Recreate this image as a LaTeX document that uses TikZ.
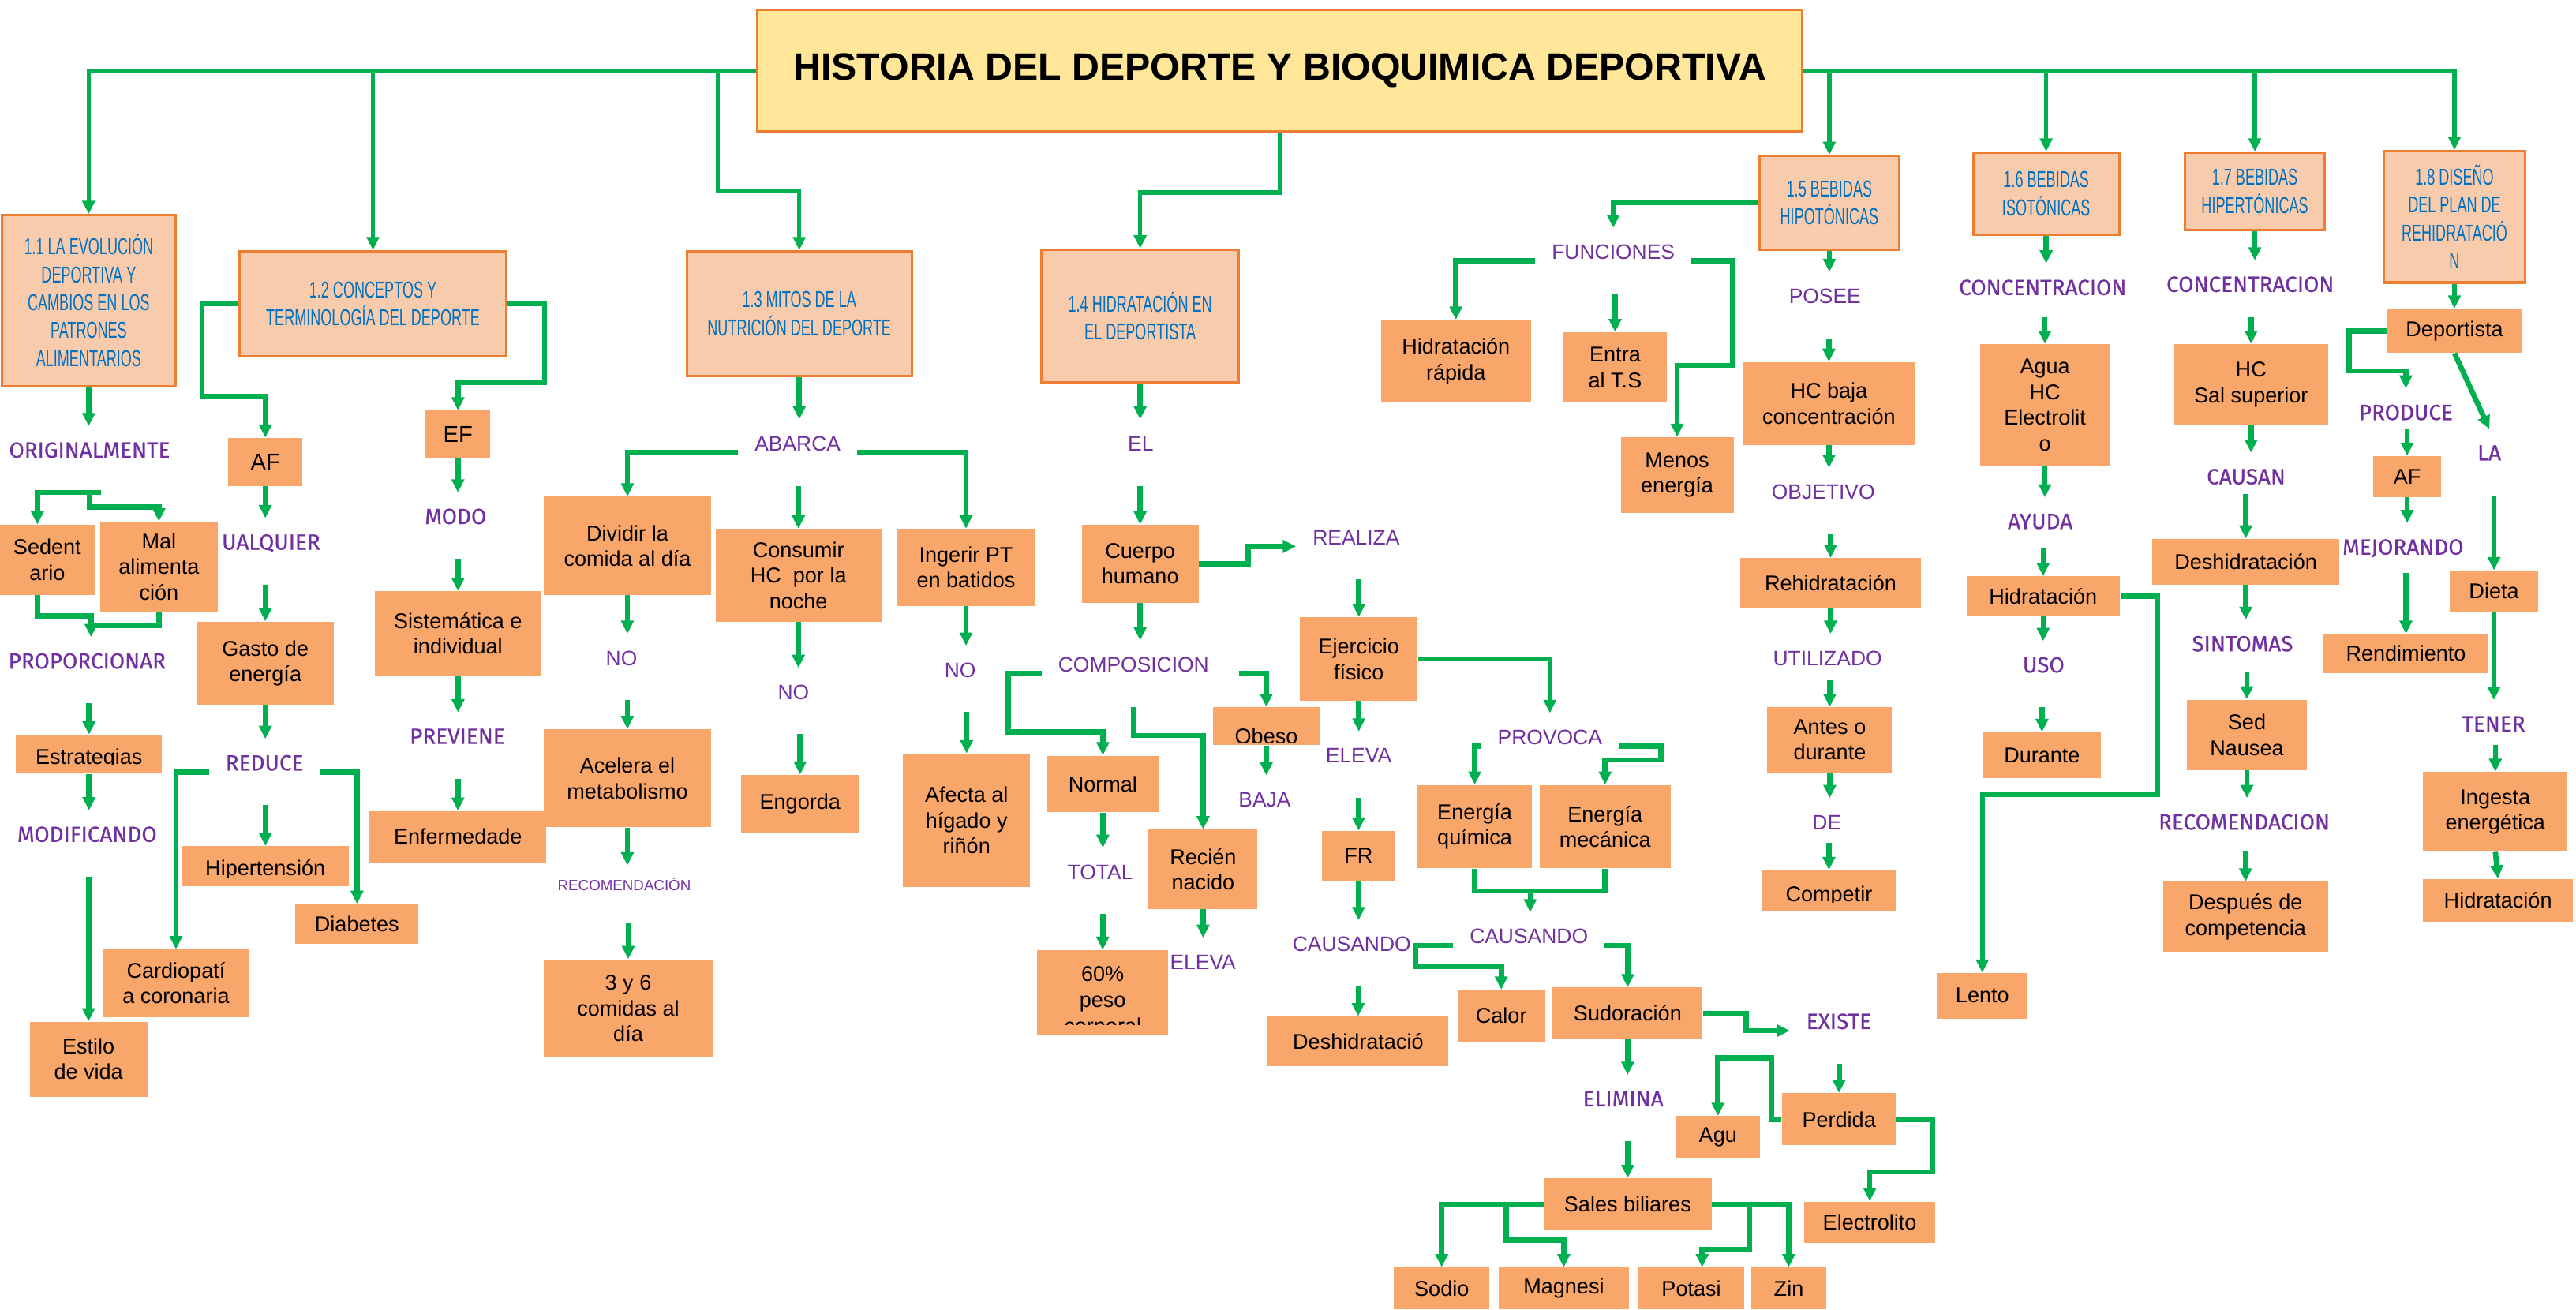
\documentclass[tikz,border=0pt]{standalone}
\usepackage{fontspec}
\setmainfont{Liberation Sans}
\newfontfamily\fA{Liberation Sans}
\newfontfamily\fH[FakeStretch=0.62]{Liberation Sans}
\newfontfamily\fD[FakeBold=0.5]{Fira Sans}
\usetikzlibrary{arrows.meta}
\definecolor{grn}{HTML}{00B050}
\definecolor{boxo}{HTML}{F9A66A}
\definecolor{hdrf}{HTML}{F8CBAD}
\definecolor{hdrd}{HTML}{ED7D31}
\definecolor{ttl}{HTML}{FFE699}
\definecolor{purp}{HTML}{7030A0}
\definecolor{blu}{HTML}{0070C0}
\tikzset{
 ob/.style={fill=boxo, inner sep=0pt, align=center, font=\fA\fontsize{13}{15.6}\selectfont},
 hdr/.style={fill=hdrf, draw=hdrd, line width=1.5pt, inner sep=0pt, align=center, text=blu, font=\fH\fontsize{14}{17}\selectfont},
 lab/.style={anchor=base, text height=19pt, text depth=21pt, inner xsep=10pt, inner ysep=0pt, text=purp},
 dl/.style={font=\fD\fontsize{13.4}{15}\selectfont},
 gl/.style={font=\fA\fontsize{12.7}{15}\selectfont},
 ar/.style={draw=grn, line width=3.2pt, -{Triangle[width=7.5pt,length=8pt]}},
 ln/.style={draw=grn, line width=3.2pt},
 tar/.style={ar, line width=2.6pt},
 ctext/.style={fill=none, inner sep=0pt, align=center, font=\fA\fontsize{13}{15.6}\selectfont},
}
\newcommand\OB[7][]{\node[ob,#1,minimum width={(#4)-(#2)},minimum height={(#5)-(#3)}] (#6) at ({((#2)+(#4))/2},{((#3)+(#5))/2}) {#7};}
\newcommand\HB[6]{\node[hdr,minimum width={(#3)-(#1)},minimum height={(#4)-(#2)}] (#5) at ({((#1)+(#3))/2},{((#2)+(#4))/2}) {#6};}
\newcommand\LB[5][]{\node[lab,#1] (#2) at (#3,{#4+5}) {#5};}
\begin{document}
\begin{tikzpicture}[x=1pt,y=-1pt]
\useasboundingbox (0,0) rectangle (1568,797);
% title
\node[fill=ttl, draw=hdrd, line width=1.2pt, minimum width=636pt, minimum height=74pt, inner sep=0pt, font=\fA\bfseries\fontsize{23.2}{27}\selectfont] (t) at (779,43) {HISTORIA DEL DEPORTE Y BIOQUIMICA DEPORTIVA};
% headers
\HB{1}{131}{107}{235}{h1}{1.1 LA EVOLUCIÓN\\DEPORTIVA Y\\CAMBIOS EN LOS\\PATRONES\\ALIMENTARIOS}
\HB{146}{153}{308}{217}{h2}{1.2 CONCEPTOS Y\\TERMINOLOGÍA DEL DEPORTE}
\HB{418}{153}{555}{229}{h3}{1.3 MITOS DE LA\\NUTRICIÓN DEL DEPORTE}
\HB{634}{152}{754}{233}{h4}{1.4 HIDRATACIÓN EN\\EL DEPORTISTA}
\HB{1071}{95}{1156}{152}{h5}{1.5 BEBIDAS\\HIPOTÓNICAS}
\HB{1201}{93}{1290}{143}{h6}{1.6 BEBIDAS\\ISOTÓNICAS}
\HB{1330}{93}{1415}{140}{h7}{1.7 BEBIDAS\\HIPERTÓNICAS}
\HB{1451}{92}{1537}{172}{h8}{1.8 DISEÑO\\DEL PLAN DE\\REHIDRATACIÓ\\N}
% left region boxes
\OB[font=\fA\fontsize{14}{16}\selectfont]{139}{266.6}{184}{295.7}{AF1}{AF}
\OB[font=\fA\fontsize{14}{16}\selectfont]{259}{250}{298.5}{279}{EF}{EF}
\OB{0}{319.5}{57.5}{362}{SedA}{Sedent\\ario}
\OB{61}{317.6}{132.5}{372.5}{Mal}{Mal\\alimenta\\ción}
\OB{120}{378.4}{203}{429}{Gasto}{Gasto de\\energía}
\OB{228}{360}{329.6}{411}{Sist}{Sistemática e\\individual}
\OB{225}{493.7}{332.5}{525}{Enf}{Enfermedade}
\OB{9.7}{447.3}{98.7}{471}{Est}{}
\begin{scope}\clip (9.7,447.3) rectangle (98.7,465.8);
\node[ctext,anchor=base] (EstT) at (54.2,465.2) {Estrategias};\end{scope}
\OB{110.7}{515.2}{212.4}{539.7}{Hip}{}
\begin{scope}\clip (110.7,515.2) rectangle (212.4,534.6);
\node[ctext,anchor=base] (HipT) at (161.5,533.2) {Hipertensión};\end{scope}
\OB{179.8}{550.4}{254.8}{574.6}{Dia}{Diabetes}
\OB{62.4}{578}{151.8}{619}{Car}{Cardiopatí\\a coronaria}
\OB{18.2}{621.9}{89.6}{667.5}{Esti}{Estilo\\de vida}
% middle region boxes
\OB{331}{302.4}{432.8}{362.2}{Div}{Dividir la\\comida al día}
\OB{435.6}{322}{536.4}{378.4}{Con}{Consumir\\HC \ por la\\noche}
\OB{546}{322}{630}{368.7}{Ing}{Ingerir PT\\en batidos}
\OB{331}{444}{432.8}{503.5}{Ace}{Acelera el\\metabolismo}
\OB{331}{584}{433.8}{643.8}{Tre}{3 y 6\\comidas al\\día}
\OB{451}{471.7}{523}{507}{Eng}{Engorda}
\OB{549.7}{458.8}{627}{540}{Afe}{Afecta al\\hígado y\\riñón}
\OB{658.4}{319.5}{729.6}{366.8}{Cue}{Cuerpo\\humano}
\OB{738.4}{430.5}{803.2}{453.6}{Obe}{}
\begin{scope}\clip (738.4,430.5) rectangle (803.2,451.8);
\node[ctext,anchor=base] (ObeT) at (770.8,452.6) {Obeso};\end{scope}
\OB{637}{460}{705.6}{494.5}{Nor}{Normal}
\OB{631.4}{578.4}{711}{630}{Ses}{}
\begin{scope}\clip (631.4,578.4) rectangle (711,624);
\node[ctext,font=\fA\fontsize{13}{16}\selectfont] (SesT) at (671.2,610) {60\%\\peso\\corporal};\end{scope}
\OB{699.2}{505}{765.4}{553.4}{Rec}{Recién\\nacido}
\OB{791.2}{375.8}{863}{426.6}{Eje}{Ejercicio\\físico}
\OB{804.6}{505.8}{849.3}{536}{FR}{FR}
\OB{863}{477.8}{932.3}{528.6}{EQ}{Energía\\química}
\OB{937}{477.8}{1017}{528.6}{EM}{Energía\\mecánica}
\OB{840.5}{194.8}{931.9}{245.1}{HR}{Hidratación\\rápida}
\OB{951.5}{202.3}{1014.7}{245.1}{ETS}{Entra\\al T.S}
\OB{986.5}{266.1}{1055.2}{312.1}{Men}{Menos\\energía}
\OB{1060.5}{220.4}{1166}{270.8}{HCb}{HC baja\\concentración}
\OB{1059.3}{339.8}{1169.2}{370.3}{Reh}{Rehidratación}
\OB{1075.8}{430.6}{1151.7}{470.2}{Ant}{Antes o\\durante}
\OB{1072.3}{529.8}{1154.2}{555}{Comp}{}
\begin{scope}\clip (1072.3,529.8) rectangle (1154.2,549.4);
\node[ctext,anchor=base] (CompT) at (1113.25,548.7) {Competir};\end{scope}
% bottom region
\OB{771.7}{618.8}{881.7}{649.2}{Des1}{Deshidratació}
\OB{887.2}{602.6}{940.4}{634.1}{Cal}{Calor}
\OB{945.1}{601.2}{1036.4}{632.4}{Sud}{Sudoración}
\OB{939.6}{717.3}{1041.9}{748.8}{Sal}{Sales biliares}
\OB{1020}{679.5}{1071.4}{704.8}{Agu}{Agu}
\OB{1084.6}{665.5}{1154.2}{697.2}{Per}{Perdida}
\OB{1098.2}{731.4}{1178}{756.7}{Ele}{Electrolito}
\OB{848.6}{771.6}{906.5}{797}{Sod}{Sodio}
\OB{912.3}{771.6}{991.4}{797}{Mag}{Magnesi}
\OB{997.2}{771.6}{1061.8}{797}{Pot}{Potasi}
\OB{1066.2}{771.6}{1111.4}{797}{Zin}{Zin}
% right region
\OB{1205.2}{209.5}{1284.3}{283.6}{Agua}{Agua\\HC\\Electrolit\\o}
\OB{1196.9}{350.9}{1290.4}{374.8}{Hid6}{Hidratación}
\OB{1207.2}{445.8}{1278.7}{473.9}{Dur}{Durante}
\OB{1179}{592.3}{1234.3}{620}{Len}{Lento}
\OB{1323.4}{209.5}{1417}{258.7}{HCS}{HC\\Sal superior}
\OB{1310}{328}{1424}{355.9}{Des7}{Deshidratación}
\OB{1331.1}{425.9}{1404.2}{468.8}{Sed7}{Sed\\Nausea}
\OB{1316.7}{536.8}{1417}{579.5}{Desp}{Después de\\competencia}
\OB{1453.1}{188}{1535}{214.9}{Dep}{Deportista}
\OB{1444.6}{277.6}{1485.8}{302.5}{AF8}{AF}
\OB{1414.4}{386}{1514.5}{409.6}{Ren}{Rendimiento}
\OB{1491.2}{347.3}{1544.9}{372.2}{Die}{Dieta}
\OB{1475}{470}{1562.8}{518.4}{Ing8}{Ingesta\\energética}
\OB{1475}{535}{1566}{561.1}{Hid8}{Hidratación}
% labels
\LB[dl]{ORIG}{54.5}{273.6}{ORIGINALMENTE}
\LB[dl]{PROP}{53}{402}{PROPORCIONAR}
\LB[dl]{MODI}{53}{507.5}{MODIFICANDO}
\LB[dl]{UALQ}{165}{329.6}{UALQUIER}
\LB[dl]{REDU}{161}{464}{REDUCE}
\LB[dl]{MODO}{277.3}{314}{MODO}
\LB[dl]{PREV}{278.4}{447.8}{PREVIENE}
\LB[gl]{ABAR}{485.5}{269.5}{ABARCA}
\LB[gl]{NO1}{378.3}{400}{NO}
\LB[gl]{NO2}{483}{420.8}{NO}
\LB[gl]{NO3}{584.5}{407.3}{NO}
\node[lab, text height=15.2pt, text depth=19.2pt, font=\fA\fontsize{9}{11}\selectfont] (RECO1) at (380,542.2) {RECOMENDACIÓN};
\LB[gl]{EL}{694.3}{269.5}{EL}
\LB[gl]{COMP}{690}{404}{COMPOSICION}
\LB[gl]{BAJA}{769.8}{486.2}{BAJA}
\LB[gl]{TOTAL}{669.7}{530.3}{TOTAL}
\LB[gl]{ELEV1}{732.2}{585}{ELEVA}
\LB[gl]{REAL}{825.5}{326.6}{REALIZA}
\LB[gl]{ELEV2}{827}{459.5}{ELEVA}
\LB[gl]{PROV}{943.4}{448.2}{PROVOCA}
\LB[gl]{CAU1}{822.8}{574.3}{CAUSANDO}
\LB[gl]{CAU2}{930.6}{569.5}{CAUSANDO}
\LB[gl]{FUNC}{982}{152.9}{FUNCIONES}
\LB[gl]{POSEE}{1110.8}{179.7}{POSEE}
\LB[gl]{OBJ}{1109.8}{299}{OBJETIVO}
\LB[gl]{UTIL}{1112.4}{400}{UTILIZADO}
\LB[gl]{DE}{1112}{500}{DE}
\LB[dl]{ELIM}{988}{668.5}{ELIMINA}
\LB[dl]{EXIS}{1119.3}{621.4}{EXISTE}
\LB[dl]{CONC6}{1243.4}{174.6}{CONCENTRACION}
\LB[dl]{AYU}{1241.9}{317}{AYUDA}
\LB[dl]{USO}{1243.9}{404.4}{USO}
\LB[dl]{CONC7}{1369.7}{172.7}{CONCENTRACION}
\LB[dl]{CAUS}{1367.2}{289.8}{CAUSAN}
\LB[dl]{SINT}{1365}{391.5}{SINTOMAS}
\LB[dl]{RECO2}{1366}{500}{RECOMENDACION}
\LB[dl]{PROD}{1464.4}{250.7}{PRODUCE}
\LB[dl]{LA}{1515.2}{275.3}{LA}
\LB[dl]{MEJO}{1462.7}{332.6}{MEJORANDO}
\LB[dl]{TENE}{1517.8}{440.3}{TENER}
% title connectors
\coordinate (j3) at (437,43);
\draw[tar] (t.west) -| (h1.north);
\draw[tar] (t.west -| h2.north) -- (h2.north);
\draw[tar] (j3) -- (437,116.6) -| (h3.north);
\draw[tar] (t.south) -- ++(0,36.6) -| (h4.north);
\draw[tar] (t.east) -| (h8.north);
\draw[tar] (t.east -| h5.north) -- (h5.north);
\draw[tar] (t.east -| h6.north) -- (h6.north);
\draw[tar] (t.east -| h7.north) -- (h7.north);
% left region
\draw[ar] (h1.south) -- (h1.south |- ORIG.north);
\draw[ar] (h2.west) -| (123,241.5) -| (AF1.north);
\draw[ar] (h2.east) -| (331.4,233) -| (EF.north);
\draw[ar] (AF1.south) -- (AF1.south |- UALQ.north);
\draw[ar] (UALQ.south -| Gasto.north) -- (Gasto.north);
\draw[ar] (Gasto.south) -- (Gasto.south |- REDU.north);
\draw[ar] (REDU.west) -| (Car.north);
\draw[ar] (REDU.east) -| (Dia.north);
\draw[ar] (REDU.south -| Hip.north) -- (Hip.north);
\draw[ar] (EF.south) -- (EF.south |- MODO.north);
\draw[ar] (MODO.south -| Sist.north) -- (Sist.north);
\draw[ar] (Sist.south) -- (Sist.south |- PREV.north);
\draw[ar] (PREV.south -| Enf.north) -- (Enf.north);
\draw[ln] (ORIG.south) -- ++(6.8,0);
\draw[ar] (ORIG.south) -| ([xshift=-6pt]SedA.north);
\draw[ar] (ORIG.south) -- ++(0,9) -| (Mal.north);
\coordinate (m1) at (55.4,381);
\draw[ln] ([xshift=-6pt]SedA.south) |- (55.4,375) -- (m1);
\draw[ar] (Mal.south) |- (m1) -- (m1 |- PROP.north);
\draw[ar] (PROP.south -| Est.north) -- (Est.north);
\draw[ar] (Est.south) -- (Est.south |- MODI.north);
\draw[ar] (MODI.south -| Esti.north) -- (Esti.north);
% middle region
\draw[ar] (h3.south) -- (h3.south |- ABAR.north);
\draw[ar] (ABAR.west) -| (Div.north);
\draw[ar] (ABAR.east) -| (Ing.north);
\draw[ar] (ABAR.south -| Con.north) -- (Con.north);
\draw[ar] (Div.south) -- (Div.south |- NO1.north);
\draw[ar] (NO1.south -| Ace.north) -- (Ace.north);
\draw[ar] (Ace.south) -- (Ace.south |- RECO1.north);
\draw[ar] (RECO1.south -| Tre.north) -- (Tre.north);
\draw[ar] (Con.south) -- (Con.south |- NO2.north);
\draw[ar] (NO2.south -| Eng.north) -- (Eng.north);
\draw[ar] (Ing.south) -- (Ing.south |- NO3.north);
\draw[ar] (NO3.south -| Afe.north) -- (Afe.north);
\draw[ar] (h4.south) -- (h4.south |- EL.north);
\draw[ar] (EL.south -| Cue.north) -- (Cue.north);
\draw[ar] (Cue.east) -- ++(29.9,0) |- (REAL.west);
\draw[ar] (REAL.south -| Eje.north) -- (Eje.north);
\draw[ar] (Cue.south) -- (Cue.south |- COMP.north);
\draw[ar] (COMP.west) -| (613.8,445.6) -| (Nor.north);
\draw[ar] (COMP.south) -- ++(0,17.5) -| (Rec.north);
\draw[ar] ([xshift=8pt]COMP.east) -| (Obe.north);
\draw[ar] (Obe.south) -- (Obe.south |- BAJA.north);
\draw[ar] (Nor.south) -- (Nor.south |- TOTAL.north);
\draw[ar] (TOTAL.south -| Ses.north) -- (Ses.north);
\draw[ar] (Rec.south) -- (Rec.south |- ELEV1.north);
\draw[ar] (Eje.south) -- (Eje.south |- ELEV2.north);
\draw[ar] (ELEV2.south -| FR.north) -- (FR.north);
\draw[ar] (FR.south) -- (FR.south |- CAU1.north);
\draw[ar] (CAU1.south -| Des1.north) -- (Des1.north);
\draw[ar] (Eje.east) -| (PROV.north);
\draw[ar] (PROV.west) -| (EQ.north);
\draw[ar] (PROV.east) -- ++(25.5,0) -- ++(0,8.4) -| (EM.north);
\draw[ln] (EQ.south) -- ++(0,13.5) -| (EM.south);
\coordinate (jE) at (931.4,542.1);
\draw[ar] (jE) -- (jE |- CAU2.north);
\draw[ar] (CAU2.west) -- ++(-22.9,0) -- ++(0,12.7) -| (Cal.north);
\draw[ar] (CAU2.east) -| (Sud.north);
\draw[ar] (Sud.east) -- ++(26.2,0) |- (EXIS.west);
\draw[ar] (Sud.south) -- (Sud.south |- ELIM.north);
\draw[ar] (ELIM.south -| Sal.north) -- (Sal.north);
\draw[ar] (EXIS.south -| Per.north) -- (Per.north);
\draw[ar] (Per.west) -- ++(-6.3,0) -- ++(0,-37.3) -| (Agu.north);
\draw[ar] (Per.east) -- ++(22,0) -- ++(0,32) -| (Ele.north);
\draw[ar] (Sal.west) -| (Sod.north);
\draw[ar] (Sal.west) -- ++(-22.6,0) -- ++(0,21.9) -| (Mag.north);
\draw[ar] (Sal.east) -| (Zin.north);
\draw[ar] (Sal.east) -- ++(22.7,0) -- ++(0,27.5) -| ([xshift=6.6pt]Pot.north);
% 1.5
\draw[ar] (h5.west) -| (FUNC.north);
\draw[ar] (FUNC.west) -| (HR.north);
\draw[ar] (FUNC.south -| ETS.north) -- (ETS.north);
\draw[ar] (FUNC.east) -- ++(24.8,0) -- ++(0,63.5) -| (Men.north);
\draw[ar] (h5.south) -- (h5.south |- POSEE.north);
\draw[ar] (POSEE.south -| HCb.north) -- (HCb.north);
\draw[ar] (HCb.south) -- (HCb.south |- OBJ.north);
\draw[ar] (OBJ.south -| Reh.north) -- (Reh.north);
\draw[ar] (Reh.south) -- (Reh.south |- UTIL.north);
\coordinate (u1) at ([yshift=-9pt]UTIL.base);
\draw[ar] (u1 -| Ant.north) -- (Ant.north);
\draw[ar] (Ant.south) -- (Ant.south |- DE.north);
\coordinate (d1) at ([yshift=-8pt]DE.base);
\draw[ar] (d1 -| Comp.north) -- (Comp.north);
% 1.6
\draw[ar] (h6.south) -- (h6.south |- CONC6.north);
\coordinate (c6) at ([yshift=-13.5pt]CONC6.base);
\draw[ar] (c6 -| Agua.north) -- (Agua.north);
\draw[ar] (Agua.south) -- (Agua.south |- AYU.north);
\coordinate (a6) at ([yshift=-12pt]AYU.base);
\draw[ar] (a6 -| Hid6.north) -- (Hid6.north);
\draw[ar] (Hid6.south) -- (Hid6.south |- USO.north);
\draw[ar] (USO.south -| Dur.north) -- (Dur.north);
\draw[ar] (Hid6.east) -- ++(22.6,0) -- ++(0,120.7) -| (Len.north);
% 1.7
\draw[ar] (h7.south) -- (h7.south |- CONC7.north);
\coordinate (c7) at ([yshift=-15.4pt]CONC7.base);
\draw[ar] (c7 -| HCS.north) -- (HCS.north);
\draw[ar] (HCS.south) -- (HCS.south |- CAUS.north);
\coordinate (s7) at ([yshift=-5.7pt]CAUS.base);
\draw[ar] (s7 -| Des7.north) -- (Des7.north);
\draw[ar] (Des7.south) -- (Des7.south |- SINT.north);
\coordinate (t7) at ([yshift=-12.5pt]SINT.base);
\draw[ar] (t7 -| Sed7.north) -- (Sed7.north);
\draw[ar] (Sed7.south) -- (Sed7.south |- RECO2.north);
\coordinate (r7) at ([yshift=-13pt]RECO2.base);
\draw[ar] (r7 -| Desp.north) -- (Desp.north);
% 1.8
\draw[ar] (h8.south) -- (h8.south |- Dep.north);
\draw[ar] (Dep.west) -- ++(-22.9,0) -- ++(0,24.3) -| (PROD.north);
\draw[ar] (Dep.south) -- (LA.north);
\coordinate (p8) at ([yshift=-5.2pt]PROD.base);
\draw[ar] (p8 -| AF8.north) -- (AF8.north);
\draw[ar] (AF8.south) -- (AF8.south |- MEJO.north);
\coordinate (e8) at ([yshift=-11.4pt]MEJO.base);
\draw[ar] (e8 -| Ren.north) -- (Ren.north);
\draw[ar] (LA.south -| Die.north) -- (Die.north);
\draw[ar] (Die.south) -- (Die.south |- TENE.north);
\coordinate (n8) at ([yshift=-8pt]TENE.base);
\draw[ar] (n8 -| Ing8.north) -- (Ing8.north);
\draw[ar] (Ing8.south) -- (Hid8.north);
\end{tikzpicture}
\end{document}
